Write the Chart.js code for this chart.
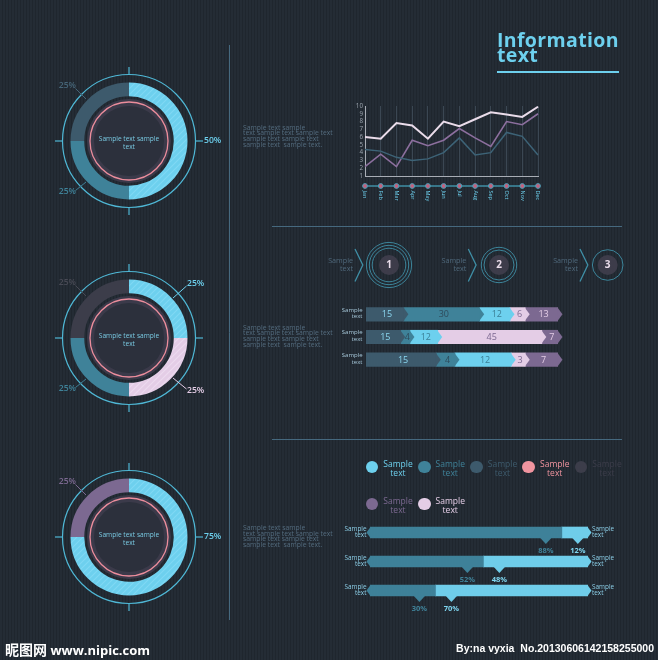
<!DOCTYPE html>
<html><head><meta charset="utf-8">
<script src="https://cdn.jsdelivr.net/npm/chart.js@4.4.1/dist/chart.umd.min.js"></script>
<style>
html,body{margin:0;padding:0;}
body{width:658px;height:660px;overflow:hidden;position:relative;background:#222a32;
background-image:repeating-linear-gradient(90deg,#242c35 0px,#242c35 2px,#1f262e 2px,#1f262e 3px);
font-family:"Open Sans",sans-serif;}
canvas{position:absolute;}
.t{position:absolute;white-space:pre;}
.para{left:243px;font-size:6.8px;line-height:5.7px;color:#536b7e;}
.title{left:497px;top:31.5px;font-size:19.5px;letter-spacing:0.35px;font-weight:700;line-height:15.5px;color:#6dd0ee;}
.uline{position:absolute;left:497px;top:70.5px;width:122px;height:2px;background:#6dd0ee;}
.lbl{font-size:6px;line-height:6.7px;text-align:right;}
.step{font-size:7.2px;line-height:8.3px;color:#4f687b;text-align:right;}
.leg{font-size:8.5px;line-height:9px;text-align:center;width:40px;}
.dot{position:absolute;width:12.6px;height:12.6px;border-radius:50%;}
</style></head>
<body>
<canvas id="decor" width="658" height="660" style="left:0;top:0"></canvas>
<div class="t title">Information
text</div>
<div class="uline"></div>
<div class="t para" style="top:124.5px">Sample text sample
text sample text sample text
sample text sample text
sample text  sample text.</div>
<div class="t para" style="top:324.5px">Sample text sample
text sample text sample text
sample text sample text
sample text  sample text.</div>
<div class="t para" style="top:525px">Sample text sample
text sample text sample text
sample text sample text
sample text  sample text.</div>
<canvas id="lineChart" width="205" height="112" style="left:340px;top:100px"></canvas>
<canvas id="donut1" width="200" height="180" style="left:29px;top:51px"></canvas>
<canvas id="donut2" width="200" height="180" style="left:29px;top:248px"></canvas>
<canvas id="donut3" width="200" height="180" style="left:29px;top:447px"></canvas>
<canvas id="stackChart" width="200" height="68" style="left:366px;top:302.7px"></canvas>
<canvas id="progChart" width="234" height="100" style="left:362px;top:518.3px"></canvas>
<div id="texts"></div>
<div class="t" style="left:5px;top:639px;font-size:13px;font-weight:700;color:#fff;"><span style="font-family:'Noto Sans CJK SC';font-size:14px;">昵图网</span> www.nipic.com</div>
<div class="t" style="right:4px;top:642px;font-size:10.5px;font-weight:700;color:#fff;font-family:'Liberation Sans',sans-serif;">By:na vyxia  No.20130606142158255000</div>
<script>
// ---------- DATA ----------
const months = ['Jan','Feb','Mar','Apr','May','Jun','Jul','Aug','Sep','Oct','Nov','Dec'];
const lineSeriesA = [6.0,5.8,7.8,7.5,5.8,8.0,7.4,8.3,9.2,8.9,8.6,9.9];
const lineSeriesB = [2.2,3.8,2.2,5.6,4.9,5.6,7.1,5.9,4.8,8.0,7.6,9.0];
const lineSeriesC = [4.4,4.2,3.4,3.0,3.2,4.0,5.9,3.7,4.0,6.6,6.1,3.7];
const donut1Values = [50,25,25];
const donut2Values = [25,25,25,25];
const donut3Values = [75,25];
const stackCategories = ['Sample text','Sample text','Sample text'];
const stackSeg1 = [15,15,15];
const stackSeg2 = [30,4,4];
const stackSeg3 = [12,12,12];
const stackSeg4 = [6,45,3];
const stackSeg5 = [13,7,7];
const progressCategories = ['Sample text','Sample text','Sample text'];
const progressLeft = [88,52,30];
const progressRight = [12,48,70];
const steps = ['1','2','3'];
const legendLabels = ['Sample\ntext','Sample\ntext','Sample\ntext','Sample\ntext','Sample\ntext','Sample\ntext','Sample\ntext'];

// ---------- STYLE ----------
const C = {slate:'#3d5a6c', teal:'#3f8299', cyan:'#6dd0ee', lpink:'#e4cde6', purple:'#7c6991', pink:'#f0949f', dgrey:'#3c3d4a'};
const FONT = '"Open Sans", sans-serif';

function hatch(base, stripe){
  const c=document.createElement('canvas'); c.width=c.height=6;
  const g=c.getContext('2d'); g.fillStyle=base; g.fillRect(0,0,6,6);
  g.strokeStyle=stripe; g.lineWidth=1.1;
  g.beginPath(); g.moveTo(-1,7); g.lineTo(7,-1); g.moveTo(-1,1); g.lineTo(1,-1); g.moveTo(5,7); g.lineTo(7,5); g.stroke();
  return g.createPattern(c,'repeat');
}

// ---------- DECOR ----------
(function(){
  const d=document.getElementById('decor').getContext('2d');
  d.strokeStyle='#46697f'; d.lineWidth=1;
  d.beginPath(); d.moveTo(229.5,45); d.lineTo(229.5,620); d.stroke();
  d.beginPath(); d.moveTo(272,226.5); d.lineTo(622,226.5); d.stroke();
  d.beginPath(); d.moveTo(272,439.5); d.lineTo(622,439.5); d.stroke();
  const stepX=[389,499,607.7], rings=[[16.8,19.7,22.6],[15,17.7],[15.3]], chevX=[355,468.3,580];
  const texts=document.getElementById('texts');
  steps.forEach((s,i)=>{
    const cx=stepX[i], cy=265;
    d.strokeStyle='#3f8fa6'; d.lineWidth=1.3;
    d.beginPath(); d.moveTo(chevX[i],249); d.lineTo(chevX[i]+7.8,265); d.lineTo(chevX[i],281.5); d.stroke();
    d.lineWidth=0.9;
    rings[i].forEach(r=>{d.beginPath(); d.arc(cx,cy,r,0,Math.PI*2); d.stroke();});
    d.fillStyle='#3d3c4a'; d.beginPath(); d.arc(cx,cy,10,0,Math.PI*2); d.fill();
    d.fillStyle='#eadcea'; d.font='700 10px '+FONT; d.textAlign='center'; d.textBaseline='middle';
    d.fillText(s,cx,cy+0.5);
    const t=document.createElement('div'); t.className='t step'; t.textContent='Sample\ntext';
    t.style.right=(658-(chevX[i]-2))+'px'; t.style.top='255.5px'; texts.appendChild(t);
  });
  // legend
  const legColors=[C.cyan,C.teal,C.slate,C.pink,C.dgrey,C.purple,C.lpink];
  legendLabels.forEach((lab,i)=>{
    const cx=372+(i%5)*52.25, cy=467+Math.floor(i/5)*37;
    const dot=document.createElement('div'); dot.className='dot';
    dot.style.left=(cx-6.3)+'px'; dot.style.top=(cy-6.3)+'px'; dot.style.background=legColors[i];
    texts.appendChild(dot);
    const t=document.createElement('div'); t.className='t leg'; t.textContent=lab;
    t.style.left=(cx+6)+'px'; t.style.top=(cy-8)+'px'; t.style.color=legColors[i];
    texts.appendChild(t);
  });
  // stacked bar labels
  stackCategories.forEach((lab,i)=>{
    const t=document.createElement('div'); t.className='t lbl'; t.textContent=lab.replace(' ','\n');
    t.style.right=(658-362.5)+'px'; t.style.top=(306.5+i*22.67)+'px'; t.style.color='#a6c8da';
    texts.appendChild(t);
  });
  progressCategories.forEach((lab,i)=>{
    ['l','r'].forEach(side=>{
      const t=document.createElement('div'); t.className='t lbl'; t.textContent=lab.replace(' ','\n');
      t.style.fontSize='6.4px'; t.style.lineHeight='6px'; t.style.color='#8ccfe8';
      t.style.top=(526+i*29)+'px';
      if(side==='l'){t.style.right=(658-366.5)+'px';} else {t.style.left='592px'; t.style.textAlign='left';}
      texts.appendChild(t);
    });
  });
})();

// ---------- LINE CHART ----------
const lineDecor={id:'lineDecor', afterDraw(chart){
  const ctx=chart.ctx, xs=chart.scales.x, ca=chart.chartArea;
  const y0=ca.bottom+10;
  ctx.save();
  ctx.strokeStyle='#3f8fa6'; ctx.lineWidth=1.6;
  ctx.beginPath(); ctx.moveTo(xs.getPixelForValue(0),y0); ctx.lineTo(xs.getPixelForValue(months.length-1),y0); ctx.stroke();
  months.forEach((m,i)=>{
    const x=xs.getPixelForValue(i);
    ctx.fillStyle='#c4607c'; ctx.strokeStyle='#4aa0b8'; ctx.lineWidth=1;
    ctx.beginPath(); ctx.arc(x,y0,2.4,0,Math.PI*2); ctx.fill(); ctx.stroke();
    ctx.save(); ctx.translate(x,y0+4.5); ctx.rotate(Math.PI/2);
    ctx.fillStyle='#6dd0ee'; ctx.font='5.5px '+FONT; ctx.textAlign='left'; ctx.textBaseline='middle';
    ctx.fillText(m,0,0); ctx.restore();
  });
  ctx.restore();
}};
new Chart(document.getElementById('lineChart'),{
  type:'line',
  data:{labels:months,datasets:[
    {data:lineSeriesC,borderColor:'#3d6377',borderWidth:1.5,pointRadius:0,tension:0},
    {data:lineSeriesB,borderColor:'#8c6f9e',borderWidth:1.6,pointRadius:0,tension:0},
    {data:lineSeriesA,borderColor:'#eadcea',borderWidth:2,pointRadius:0,tension:0}
  ]},
  options:{responsive:false,animation:false,
    layout:{padding:{top:6,right:7,left:0,bottom:0}},
    plugins:{legend:{display:false},tooltip:{enabled:false}},
    scales:{
      x:{grid:{color:'#3b4753',drawTicks:false},border:{color:'#a8adb5',width:1},ticks:{display:false},afterFit(s){s.height=36;}},
      y:{min:1,max:10,ticks:{stepSize:1,autoSkip:false,color:'#9aa3ad',font:{size:6.3,family:'Open Sans'},padding:2},
         grid:{display:false,drawTicks:false},border:{color:'#a8adb5',width:1},afterFit(s){s.width=25;}}
    }},
  plugins:[lineDecor]
});

// ---------- DONUTS ----------
const donutDecor={id:'donutDecor',
  beforeDatasetsDraw(chart){
    const a=chart.getDatasetMeta(0).data[0], cx=a.x, cy=a.y, ctx=chart.ctx;
    ctx.save(); ctx.strokeStyle='#4fb8d6'; ctx.lineWidth=1.2;
    ctx.beginPath(); ctx.arc(cx,cy,66.5,0,Math.PI*2); ctx.stroke();
    [[1,0],[-1,0],[0,1],[0,-1]].forEach(([dx,dy])=>{ctx.beginPath(); ctx.moveTo(cx+dx*66.5,cy+dy*66.5); ctx.lineTo(cx+dx*74,cy+dy*74); ctx.stroke();});
    ctx.restore();
  },
  afterDatasetsDraw(chart,args,opts){
    const a=chart.getDatasetMeta(0).data[0], cx=a.x, cy=a.y, ctx=chart.ctx;
    ctx.save();
    ctx.fillStyle='#3b3a4a'; ctx.beginPath(); ctx.arc(cx,cy,42,0,Math.PI*2); ctx.fill();
    ctx.fillStyle='#2c303c'; ctx.beginPath(); ctx.arc(cx,cy,35,0,Math.PI*2); ctx.fill();
    ctx.strokeStyle='#ec8d9c'; ctx.lineWidth=1.3; ctx.beginPath(); ctx.arc(cx,cy,39,0,Math.PI*2); ctx.stroke();
    ctx.fillStyle='#79c9e2'; ctx.font='6.6px '+FONT; ctx.textAlign='center'; ctx.textBaseline='middle';
    ctx.fillText('Sample text sample',cx,cy-2); ctx.fillText('text',cx,cy+6);
    const vals=chart.data.datasets[0].data;
    const G={tl:{tx:-53,ty:-55,al:'right',l:[-53.5,-52.5,-43,-42]},
             bl:{tx:-53,ty:51,al:'right',l:[-53.5,49.5,-43,41]},
             tr:{tx:58,ty:-54,al:'left',l:[57.5,-52,44,-40]},
             br:{tx:58,ty:53,al:'left',l:[57.5,51,44,40]},
             r:{tx:75,ty:0,al:'left',l:null}};
    opts.slots.forEach((s,i)=>{
      const g=G[s], col=opts.labelColors[i];
      ctx.fillStyle=col; ctx.strokeStyle=col; ctx.lineWidth=1;
      ctx.font='600 8.6px '+FONT; ctx.textAlign=g.al; ctx.textBaseline='middle';
      ctx.fillText(vals[i]+'%',cx+g.tx,cy+g.ty);
      if(g.l){ctx.beginPath(); ctx.moveTo(cx+g.l[0],cy+g.l[1]); ctx.lineTo(cx+g.l[2],cy+g.l[3]); ctx.stroke();}
    });
    ctx.restore();
  }};
function makeDonut(id,values,colors,slots,labelColors){
  new Chart(document.getElementById(id),{
    type:'doughnut',
    data:{datasets:[{data:values,backgroundColor:colors,borderWidth:0}]},
    options:{responsive:false,animation:false,radius:58.5,cutout:'76.5%',
      plugins:{legend:{display:false},tooltip:{enabled:false},donutDecor:{slots,labelColors}}},
    plugins:[donutDecor]
  });
}
const cyanH=hatch('#6dd0ee','#80d9f3'), pinkH=hatch('#e4cde6','#eddbef');
makeDonut('donut1',donut1Values,[cyanH,C.teal,C.slate],['r','bl','tl'],['#6dd0ee','#3f8299','#466578']);
makeDonut('donut2',donut2Values,[cyanH,pinkH,C.teal,C.dgrey],['tr','br','bl','tl'],['#6dd0ee','#e4cde6','#3f8299','#484a55']);
makeDonut('donut3',donut3Values,[cyanH,C.purple],['r','tl'],['#6dd0ee','#7c6991']);

// ---------- STACKED BARS ----------
const stackSegments=[stackSeg1,stackSeg2,stackSeg3,stackSeg4,stackSeg5];
const stackColors=[C.slate,C.teal,C.cyan,C.lpink,C.purple];
const stackTextColors=['#8ad6ef','#2e4b5c','#3b7f96','#7c6991','#e4cde6'];
const stackTotals=stackCategories.map((_,i)=>stackSegments.reduce((s,a)=>s+a[i],0));
const stackDecor={id:'stackDecor',afterDatasetsDraw(chart){
  const ctx=chart.ctx; ctx.save();
  chart.data.datasets.forEach((ds,di)=>{
    chart.getDatasetMeta(di).data.forEach(b=>{
      const {x,y,height}=b.getProps(['x','y','height'],true);
      ctx.fillStyle=ds.backgroundColor; ctx.beginPath();
      ctx.moveTo(x-0.5,y-height/2); ctx.lineTo(x+4.5,y); ctx.lineTo(x-0.5,y+height/2); ctx.closePath(); ctx.fill();
    });
  });
  chart.data.datasets.forEach((ds,di)=>{
    chart.getDatasetMeta(di).data.forEach((b,i)=>{
      const {x,y,base}=b.getProps(['x','y','base'],true);
      ctx.fillStyle=stackTextColors[di]; ctx.font='9px '+FONT; ctx.textAlign='center'; ctx.textBaseline='middle';
      ctx.fillText(String(stackSegments[di][i]),(x+base)/2+2,y+0.5);
    });
  });
  ctx.restore();
}};
new Chart(document.getElementById('stackChart'),{
  type:'bar',
  data:{labels:stackCategories,datasets:stackSegments.map((arr,k)=>({
    data:arr.map((v,i)=>v/stackTotals[i]*100),backgroundColor:stackColors[k],barThickness:13.5,borderWidth:0}))},
  options:{indexAxis:'y',responsive:false,animation:false,layout:{padding:{right:8}},
    plugins:{legend:{display:false},tooltip:{enabled:false}},
    scales:{x:{stacked:true,display:false,min:0,max:100},y:{stacked:true,display:false}}},
  plugins:[stackDecor]
});

// ---------- PROGRESS BARS ----------
const progColors=['#3e8199','#6fcdea'];
const progDecor={id:'progDecor',afterDatasetsDraw(chart){
  const ctx=chart.ctx; ctx.save();
  const m0=chart.getDatasetMeta(0), m1=chart.getDatasetMeta(1);
  m0.data.forEach((b,i)=>{
    const p=b.getProps(['x','y','base','height'],true);
    const e=m1.data[i].getProps(['x'],true).x;
    const top=p.y-p.height/2, bot=p.y+p.height/2;
    ctx.fillStyle=progColors[0]; ctx.beginPath(); ctx.moveTo(p.base+0.5,top); ctx.lineTo(p.base-3.5,p.y); ctx.lineTo(p.base+0.5,bot); ctx.fill();
    ctx.fillStyle=progColors[1]; ctx.beginPath(); ctx.moveTo(e-0.5,top); ctx.lineTo(e+3.5,p.y); ctx.lineTo(e-0.5,bot); ctx.fill();
    [[p.x-16,0,progressLeft[i],'#3f8299'],[p.x+16,1,progressRight[i],'#7fd6f0']].forEach(([px,k,v,tc])=>{
      ctx.fillStyle=progColors[k]; ctx.beginPath(); ctx.moveTo(px-6,bot-0.5); ctx.lineTo(px,bot+6); ctx.lineTo(px+6,bot-0.5); ctx.fill();
      ctx.fillStyle=tc; ctx.font='700 7.5px '+FONT; ctx.textAlign='center'; ctx.textBaseline='middle';
      ctx.fillText(v+'%',px,bot+13);
    });
  });
  ctx.restore();
}};
new Chart(document.getElementById('progChart'),{
  type:'bar',
  data:{labels:progressCategories,datasets:[
    {data:progressLeft,backgroundColor:progColors[0],barThickness:11,borderWidth:0},
    {data:progressRight,backgroundColor:progColors[1],barThickness:11,borderWidth:0}]},
  options:{indexAxis:'y',responsive:false,animation:false,layout:{padding:{left:8,right:8,bottom:13}},
    plugins:{legend:{display:false},tooltip:{enabled:false}},
    scales:{x:{stacked:true,display:false,min:0,max:100},y:{stacked:true,display:false}}},
  plugins:[progDecor]
});
</script>
</body></html>
